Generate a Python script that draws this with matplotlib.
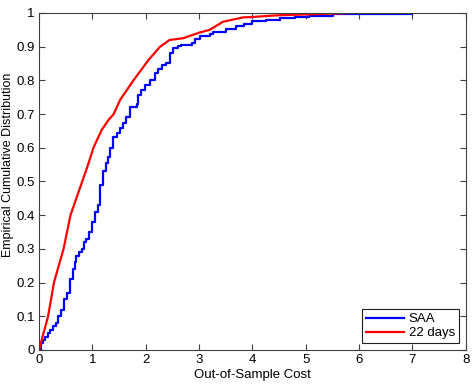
import matplotlib.pyplot as plt

plt.rcParams['font.family'] = ['Liberation Sans', 'DejaVu Sans']

# empirical CDF points
saa_x = [0, 0.04, 0.08, 0.12, 0.17, 0.20, 0.27, 0.31, 0.36, 0.41, 0.47, 0.53, 0.58,
         0.63, 0.67, 0.70, 0.75, 0.80, 0.84, 0.88, 0.94, 0.99, 1.05, 1.11, 1.14,
         1.20, 1.25, 1.30, 1.33, 1.39, 1.46, 1.52, 1.58, 1.64, 1.70, 1.83, 1.86,
         1.92, 1.99, 2.08, 2.17, 2.24, 2.30, 2.39, 2.45, 2.51, 2.61, 2.67, 2.86,
         2.92, 3.01, 3.20, 3.26, 3.51, 3.70, 3.85, 4.00, 4.25, 4.51, 4.80, 5.07,
         5.51, 5.82, 7.00]
saa_y = [0, 0.02, 0.03, 0.04, 0.05, 0.06, 0.07, 0.08, 0.10, 0.12, 0.15, 0.17, 0.21,
         0.24, 0.26, 0.28, 0.29, 0.30, 0.32, 0.33, 0.35, 0.38, 0.41, 0.43, 0.49,
         0.53, 0.555, 0.574, 0.60, 0.632, 0.644, 0.66, 0.673, 0.692, 0.722, 0.73, 0.757,
         0.77, 0.785, 0.80, 0.821, 0.835, 0.846, 0.851, 0.88, 0.895, 0.903, 0.905, 0.910,
         0.922, 0.932, 0.937, 0.945, 0.953, 0.961, 0.967, 0.975, 0.98, 0.984, 0.988, 0.991,
         0.996, 0.998, 1.0]

days_x = [0, 0.05, 0.17, 0.28, 0.46, 0.59, 0.70, 0.81, 0.92, 1.02, 1.175, 1.30,
          1.40, 1.52, 1.77, 2.05, 2.27, 2.45, 2.70, 3.01, 3.20, 3.45, 3.83, 4.00,
          4.45, 5.07, 5.85]
days_y = [0, 0.03, 0.10, 0.20, 0.30, 0.40, 0.45, 0.50, 0.55, 0.60, 0.653, 0.682,
          0.70, 0.742, 0.80, 0.86, 0.90, 0.92, 0.925, 0.942, 0.95, 0.974, 0.987, 0.988,
          0.993, 0.996, 1.0]

fig = plt.figure(figsize=(4.77, 3.91), dpi=100)
ax = fig.add_axes([0.0818, 0.1049, 0.8945, 0.8619])

ax.step(saa_x, saa_y, where='post', color='#0000ff', lw=1.6, label='SAA')
ax.plot(days_x, days_y, color='#ff0000', lw=1.6, label='22 days')

ax.set_xlim(0, 8)
ax.set_ylim(0, 1)
ax.set_xticks(range(0, 9))
ax.set_yticks([i / 10 for i in range(11)])
ax.set_yticklabels(['0', '0.1', '0.2', '0.3', '0.4', '0.5', '0.6', '0.7', '0.8', '0.9', '1'])
ax.tick_params(direction='in', top=True, right=True, length=4, labelsize=9.5,
               color='#404040', pad=3)
for s in ax.spines.values():
    s.set_color('#404040')
    s.set_linewidth(0.8)

ax.set_xlabel('Out-of-Sample Cost', fontsize=9.5, labelpad=2)
ax.set_ylabel('Empirical Cumulative Distribution', fontsize=9)
ax.yaxis.set_label_coords(-0.058, 0.55)

leg = ax.legend(loc='lower right', fontsize=9.5, fancybox=False, edgecolor='#202020',
                handlelength=2.9, borderaxespad=0.5, labelspacing=0.15,
                handletextpad=0.35, borderpad=0.3, framealpha=1)
leg.get_frame().set_linewidth(0.8)

fig.savefig('out.png', dpi=100)
